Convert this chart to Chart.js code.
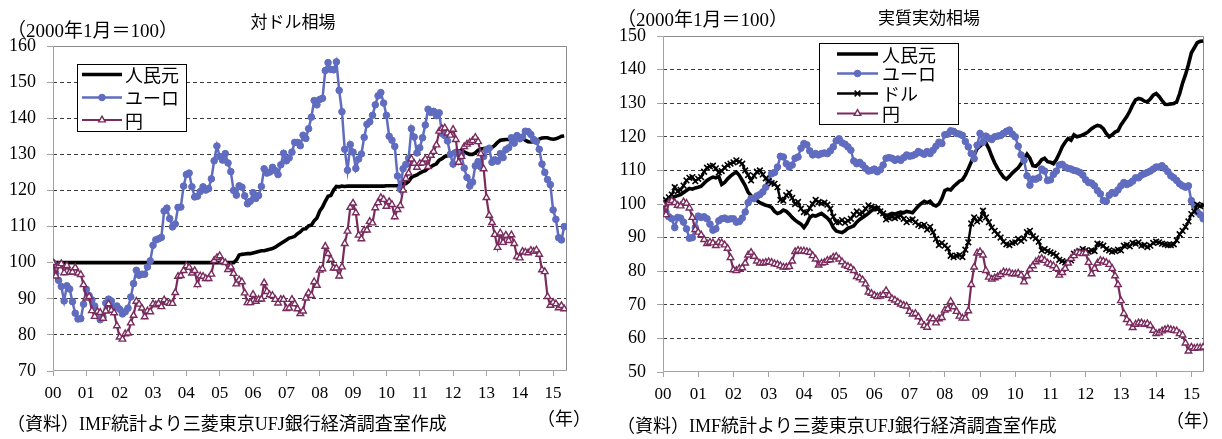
<!DOCTYPE html>
<html lang="ja">
<head>
<meta charset="utf-8">
<script src="https://cdn.jsdelivr.net/npm/chart.js@4.4.1/dist/chart.umd.min.js"></script>
<style>
  html, body { margin: 0; padding: 0; background: #fff; }
  body { width: 1222px; height: 439px; position: relative; overflow: hidden; }
  canvas { position: absolute; top: 0; }
  #cvL { left: 0; }
  #cvR { left: 611px; }
  .t { position: absolute; white-space: nowrap; color: #000;
       font-family: "Liberation Serif", "Noto Sans CJK JP", serif; }
  .g { font-family: "Noto Sans CJK JP", sans-serif; }
</style>
</head>
<body>
<canvas id="cvL" width="611" height="439"></canvas>
<canvas id="cvR" width="611" height="439"></canvas>

<div class="t" style="left:7px; top:21px; font-size:19px; line-height:20px;">（2000年1月＝100）</div>
<div class="t g" style="left:293px; top:12px; font-size:17px; line-height:18px; transform:translateX(-50%);">対ドル相場</div>
<div class="t" style="left:7px; top:414px; font-size:18px; line-height:20px;">（資料）IMF統計より三菱東京UFJ銀行経済調査室作成</div>
<div class="t" style="left:564px; top:409px; font-size:18px; line-height:20px; transform:translateX(-50%);">（年）</div>

<div class="t" style="left:617px; top:10px; font-size:19px; line-height:20px;">（2000年1月＝100）</div>
<div class="t g" style="left:929px; top:8px; font-size:17px; line-height:18px; transform:translateX(-50%);">実質実効相場</div>
<div class="t" style="left:617px; top:416px; font-size:18px; line-height:20px;">（資料）IMF統計より三菱東京UFJ銀行経済調査室作成</div>
<div class="t" style="left:1193px; top:411px; font-size:18px; line-height:20px; transform:translateX(-50%);">（年）</div>

<script>
// Monthly series, Jan 2000 .. May 2015 (2000年1月 = 100)
const yearLabels = ['00','01','02','03','04','05','06','07','08','09','10','11','12','13','14','15'];
const yearTicks = yearLabels.map((_, i) => i * 12);

// 対ドル相場
const cnyVsUsd = [
  100,100,100,100,100,100,100,100,100,100,100,100,
  100,100,100,100,100,100,100,100,100,100,100,100,
  100,100,100,100,100,100,100,100,100,100,100,100,
  100,100,100,100,100,100,100,100,100,100,100,100,
  100,100,100,100,100,100,100,100,100,100,100,100,
  100,100,100,100,100,100,100.7,102.1,102.3,102.4,102.5,102.5,
  102.7,102.9,103.1,103.3,103.3,103.5,103.7,103.9,104.3,104.8,105.3,105.8,
  106.3,106.8,107.0,107.3,108.0,108.5,109.3,109.4,110.2,110.4,111.6,112.4,
  114.3,115.4,117.0,118.4,118.6,120.1,121.1,121.0,121.2,121.1,121.2,121.2,
  121.2,121.2,121.2,121.2,121.2,121.2,121.2,121.2,121.2,121.2,121.2,121.2,
  121.3,121.3,121.3,121.3,121.3,121.5,122.0,121.9,122.5,123.6,124.0,124.3,
  124.8,125.2,125.5,126.2,126.6,127.0,127.4,128.4,128.8,129.4,129.6,130.0,
  130.6,131.0,130.9,131.0,130.7,130.3,130.0,130.0,130.4,131.1,131.5,131.6,
  131.7,131.6,131.9,132.5,133.3,133.9,134.0,134.1,134.1,134.2,134.4,134.7,
  134.8,134.6,133.9,133.5,133.4,133.5,133.8,134.2,134.5,134.6,134.6,134.3,
  134.2,134.3,134.6,135.0,135.1
];
const eurVsUsd = [
  100.0,97.0,95.1,93.4,89.4,93.6,92.7,89.2,86.0,84.4,84.5,88.5,
  92.6,90.9,89.7,88.0,86.2,84.2,84.9,88.8,89.9,89.4,87.6,88.0,
  87.1,85.8,86.4,87.4,90.5,94.2,97.9,96.5,96.8,96.8,98.8,100.5,
  104.8,106.3,106.6,107.0,114.3,115.1,112.2,109.9,110.7,115.3,115.4,121.2,
  124.4,124.8,121.0,118.2,118.4,119.7,121.0,120.1,120.5,123.2,128.2,132.3,
  129.4,128.4,130.2,127.6,125.2,120.0,118.7,121.3,120.9,118.5,116.3,117.0,
  119.4,117.8,118.6,121.1,126.0,124.8,125.1,126.4,125.5,124.4,127.1,130.3,
  128.2,129.0,130.6,133.3,133.3,132.4,135.3,134.4,137.1,140.3,144.9,143.7,
  145.2,145.5,153.2,155.4,153.5,153.4,155.6,147.7,141.8,131.4,125.6,132.7,
  130.6,126.1,128.7,130.1,134.7,138.3,139.0,140.8,143.7,146.2,147.1,144.2,
  140.8,135.0,133.9,132.2,124.0,120.4,126.0,127.2,128.9,137.1,134.8,130.4,
  131.8,134.6,138.1,142.5,141.6,141.9,140.7,141.5,135.8,135.2,133.7,130.0,
  127.3,130.5,130.2,129.8,126.2,123.6,121.2,122.3,126.8,128.0,126.5,129.4,
  131.2,131.7,127.8,128.5,128.1,130.2,129.1,131.3,131.8,134.6,133.1,135.2,
  134.3,134.8,136.4,136.3,135.5,134.1,133.6,131.4,127.3,125.0,123.0,121.6,
  114.6,112.0,106.9,106.3,110.0
];
const jpyVsUsd = [
  100.0,96.3,99.1,99.7,97.2,99.2,97.3,97.4,98.6,97.1,96.7,93.9,
  90.2,90.6,86.7,85.1,86.5,86.2,84.6,86.6,88.6,86.8,86.1,82.5,
  79.4,78.8,80.3,80.5,83.3,85.4,89.3,88.5,87.4,85.0,86.6,86.4,
  88.6,88.3,88.7,87.8,89.7,89.0,88.7,88.7,91.7,96.2,96.4,97.8,
  99.1,98.7,97.1,97.8,93.9,96.3,96.2,95.6,95.6,96.8,100.6,101.4,
  101.9,100.4,100.0,98.1,98.8,97.0,94.1,95.2,94.7,91.6,88.9,88.9,
  91.2,89.3,89.8,89.9,94.4,92.0,91.1,90.9,89.8,88.8,89.8,89.8,
  87.3,87.4,89.8,88.6,87.2,85.9,86.6,90.2,91.6,90.9,94.7,93.7,
  97.9,98.3,104.5,102.5,100.9,98.5,98.5,96.3,98.8,105.3,108.7,115.3,
  116.5,113.8,107.6,106.6,109.0,109.0,111.4,111.0,115.2,116.6,118.0,117.5,
  115.6,116.9,116.1,112.7,114.7,115.8,120.1,123.3,124.8,128.7,127.5,126.4,
  127.5,127.6,128.7,126.6,129.7,130.8,132.6,136.4,137.1,137.3,135.9,135.3,
  136.9,134.1,127.8,129.4,132.1,132.8,133.3,133.8,134.7,133.5,130.2,126.0,
  118.0,113.1,111.1,107.8,104.2,108.2,105.6,107.6,106.1,107.7,105.3,101.7,
  101.3,103.1,102.9,102.7,103.4,103.1,103.5,102.3,98.0,97.5,90.6,88.2,
  89.0,88.6,87.5,88.1,87.2
];

// 実質実効相場
const cnyReer = [
  100.0,100.8,101.6,101.3,102.2,102.5,102.8,103.4,104.0,104.6,104.4,104.8,
  105.0,105.3,106.2,107.0,107.6,108.0,107.8,108.2,105.8,106.4,107.5,108.3,
  109.0,109.5,108.5,107.0,105.5,103.5,102.5,101.5,101.0,100.4,100.0,99.6,
  99.4,99.0,97.8,97.2,97.5,98.2,97.8,97.0,96.0,95.2,94.6,94.0,
  93.0,94.2,96.0,96.6,96.4,96.8,97.2,96.5,95.8,94.8,93.0,92.0,
  91.7,91.5,92.0,92.8,93.1,93.5,94.6,95.4,96.0,96.6,97.2,98.0,
  98.6,98.9,98.0,97.0,96.6,96.8,97.2,97.0,97.3,97.6,97.4,97.8,
  97.6,97.4,98.4,99.4,100.2,100.8,100.4,100.8,99.8,99.4,100.0,101.6,
  104.0,104.4,104.2,105.2,106.0,106.8,107.2,108.6,110.5,112.5,114.5,116.5,
  117.2,118.0,118.2,116.5,114.2,112.2,110.6,109.2,108.0,107.4,108.2,109.2,
  110.0,110.8,112.0,113.4,114.8,113.6,111.4,111.2,112.0,113.2,113.6,112.6,
  112.4,112.0,113.2,115.0,117.0,118.4,119.5,119.0,120.6,120.0,120.2,120.6,
  121.0,121.6,122.4,123.0,123.4,123.2,122.4,121.0,120.0,120.6,121.4,121.8,
  123.5,124.8,126.0,127.6,129.5,131.0,131.4,131.2,130.6,130.4,131.2,132.4,
  132.9,132.0,130.8,129.7,129.6,129.8,129.9,130.4,132.8,136.0,138.5,141.5,
  145.0,146.5,148.0,148.4,148.5
];
const eurReer = [
  100.0,97.6,96.2,95.6,93.0,96.0,95.8,94.6,92.6,89.8,90.0,93.0,
  96.4,96.0,96.2,95.6,94.0,92.2,92.6,95.0,95.6,95.8,95.4,95.6,
  95.6,94.6,94.8,95.8,97.6,100.4,101.6,101.6,102.4,102.8,103.6,105.0,
  107.0,109.0,109.4,111.0,114.2,114.0,112.0,111.0,111.6,113.6,114.0,116.6,
  118.0,117.6,115.8,114.6,115.0,114.6,115.0,115.2,115.0,115.8,117.0,118.8,
  119.4,118.2,117.8,117.0,116.0,112.8,112.0,112.4,111.6,110.6,109.8,110.0,
  110.4,109.6,110.2,111.6,113.6,113.8,113.6,113.0,113.4,113.0,113.8,114.6,
  114.2,114.4,114.8,115.6,115.2,114.8,115.6,115.0,116.0,117.2,118.4,118.0,
  120.6,120.8,121.8,121.6,121.0,120.8,120.4,118.6,117.0,115.0,113.5,117.5,
  121.0,118.4,120.2,119.6,119.2,120.0,120.2,120.4,121.0,121.6,122.0,120.8,
  120.0,117.2,114.6,113.0,108.4,105.6,107.4,107.4,107.8,110.4,109.8,107.0,
  107.2,108.8,109.8,111.6,111.8,111.0,110.6,110.4,110.0,109.8,109.4,108.6,
  107.2,106.4,106.2,105.4,104.0,103.0,101.0,100.8,102.6,103.4,103.2,104.2,
  105.4,106.4,105.8,106.2,106.8,107.8,107.8,108.6,109.0,109.4,109.8,110.4,
  111.0,111.0,111.4,110.6,109.6,108.4,107.8,107.0,106.0,105.4,105.0,105.4,
  101.0,99.6,97.6,96.8,95.6
];
const usdReer = [
  100.0,101.2,102.0,102.8,105.0,103.8,104.2,105.5,107.0,107.8,108.0,106.8,
  107.5,108.0,109.6,110.8,111.2,111.4,110.6,109.4,109.8,110.8,111.6,112.0,
  112.4,113.0,112.6,112.0,110.0,108.6,107.0,108.4,109.6,110.0,108.8,107.6,
  106.8,106.2,106.0,105.0,101.2,101.0,102.6,103.4,101.8,100.0,100.6,98.6,
  97.6,97.4,98.8,100.0,101.2,100.6,100.2,100.4,99.8,98.6,96.2,94.6,
  94.6,95.2,94.4,95.0,95.6,96.8,97.8,97.0,97.4,98.6,99.6,99.2,
  98.8,98.6,97.8,97.2,95.4,95.8,96.2,95.8,96.2,96.6,95.6,94.6,
  95.2,95.4,94.6,93.8,93.4,93.8,92.4,93.2,91.6,89.6,87.8,88.4,
  87.6,86.8,84.6,84.2,84.6,84.8,84.2,86.4,88.6,94.2,96.0,94.8,
  95.4,98.0,96.0,94.6,93.0,92.0,91.0,90.0,88.8,88.0,87.8,88.4,
  88.6,89.6,89.0,89.8,91.6,92.0,90.4,89.8,88.8,86.2,86.6,86.0,
  85.6,85.2,84.6,83.4,83.0,82.6,82.6,83.2,85.2,85.6,86.0,86.6,
  86.2,85.8,86.2,86.0,88.2,88.0,87.6,86.6,86.2,85.8,86.0,86.4,
  86.2,87.6,87.8,87.4,88.4,88.2,88.6,87.6,87.8,87.2,87.6,88.4,
  88.8,88.6,88.2,88.0,87.8,87.8,88.0,89.2,91.0,92.0,93.2,94.8,
  97.0,97.8,99.8,99.4,99.6
];
const jpyReer = [
  100.0,96.8,100.4,101.0,100.4,99.6,99.4,100.6,100.2,98.8,96.0,92.4,
  91.6,90.8,89.4,88.2,88.6,88.4,87.6,88.6,88.4,87.8,86.8,84.0,
  80.4,80.2,80.8,81.0,82.4,84.8,85.6,84.4,83.0,82.4,82.4,82.6,
  82.8,82.6,82.2,82.0,81.6,81.2,81.2,81.4,83.0,85.8,86.2,86.0,
  86.0,85.8,85.6,84.6,83.6,81.8,82.4,82.6,83.2,83.4,84.2,84.4,
  83.6,82.8,81.8,81.4,81.0,80.2,78.4,78.0,77.4,76.2,73.8,73.4,
  72.8,72.4,72.6,73.0,74.2,72.8,71.8,71.4,70.8,70.2,69.8,69.6,
  68.0,67.2,67.4,66.4,64.8,63.8,63.3,66.0,65.8,64.6,65.8,66.2,
  68.4,68.8,71.0,69.4,68.0,66.6,66.0,66.0,68.2,76.0,81.2,85.4,
  85.8,84.8,80.2,78.2,77.6,78.0,78.4,79.0,79.8,79.6,79.6,79.2,
  79.2,79.4,78.8,76.8,78.6,80.6,81.6,82.8,83.4,83.8,83.2,82.4,
  82.0,81.6,80.8,78.8,79.6,80.8,82.4,83.8,84.6,85.6,85.4,85.2,
  85.4,82.6,79.2,80.8,82.4,83.2,83.0,82.6,82.0,80.8,78.6,76.0,
  71.2,67.4,65.6,64.6,63.2,64.2,64.6,64.6,64.2,64.4,63.8,62.4,
  61.4,61.6,62.2,62.6,62.8,62.6,62.4,62.2,61.4,61.0,58.6,56.2,
  57.4,57.0,57.2,57.2,57.4
];

const leftTicks = [70, 80, 90, 100, 110, 120, 130, 140, 150, 160];
const rightTicks = [50, 60, 70, 80, 90, 100, 110, 120, 130, 140, 150];

const EUR_COLOR = '#5f6cbf';
const JPY_COLOR = '#7a2b5d';
const GRID_COLOR = '#3a3a3a';
const AXIS_COLOR = '#a3a3a3';
const FRAME_COLOR = '#8a8a8a';
const TICK_FONT = { family: '"Liberation Serif", serif', size: 18 };
const X_TICK_FONT = { family: '"Liberation Serif", serif', size: 17 };
const LEGEND_FONT = '18px "Noto Sans CJK JP", sans-serif';

const toPoints = arr => arr.map((v, i) => ({ x: i, y: v }));

// Plot-area frame: solid axes on the left/bottom, thin border on top/right
const framePlugin = {
  id: 'frame',
  beforeDatasetsDraw(chart) {
    const { ctx, chartArea: a } = chart;
    const L = Math.round(a.left) + 0.5, R = Math.round(a.right) - 0.5;
    const T = Math.round(a.top) + 0.5, B = Math.round(a.bottom) - 0.5;
    ctx.save();
    ctx.lineWidth = 1;
    ctx.setLineDash([]);
    ctx.strokeStyle = FRAME_COLOR;
    ctx.beginPath();
    ctx.moveTo(L, T); ctx.lineTo(R, T); ctx.lineTo(R, B);
    ctx.stroke();
    ctx.strokeStyle = AXIS_COLOR;
    ctx.beginPath();
    ctx.moveTo(L, T); ctx.lineTo(L, B); ctx.lineTo(R, B);
    ctx.stroke();
    ctx.restore();
  }
};

// Boxed legend placed inside the plot area
const boxLegend = {
  id: 'boxLegend',
  afterDatasetsDraw(chart, args, opts) {
    const ctx = chart.ctx;
    const [bx, by, bw, bh] = opts.box;
    ctx.save();
    ctx.setLineDash([]);
    ctx.fillStyle = '#fff';
    ctx.fillRect(bx, by, bw, bh);
    ctx.strokeStyle = '#000';
    ctx.lineWidth = 1;
    ctx.strokeRect(bx + 0.5, by + 0.5, bw, bh);
    opts.order.forEach((dsIndex, row) => {
      const ds = chart.data.datasets[dsIndex];
      const y = opts.rows[row];
      ctx.strokeStyle = ds.borderColor;
      ctx.lineWidth = ds.borderWidth;
      ctx.beginPath();
      ctx.moveTo(opts.lineX[0], y);
      ctx.lineTo(opts.lineX[1], y);
      ctx.stroke();
      if (ds.pointRadius > 0) {
        ctx.fillStyle = ds.pointBackgroundColor;
        ctx.strokeStyle = ds.pointBorderColor;
        ctx.lineWidth = ds.pointBorderWidth;
        Chart.helpers.drawPoint(ctx, {
          pointStyle: ds.pointStyle, radius: ds.pointRadius,
          borderWidth: ds.pointBorderWidth, rotation: 0
        }, (opts.lineX[0] + opts.lineX[1]) / 2, y);
      }
      ctx.fillStyle = '#000';
      ctx.font = LEGEND_FONT;
      ctx.textAlign = 'left';
      ctx.textBaseline = 'middle';
      ctx.fillText(ds.label, opts.textX, y + 1);
    });
    ctx.restore();
  }
};

function cnyDataset(values) {
  return { label: '人民元', data: toPoints(values), borderColor: '#000', borderWidth: 3.6,
           pointRadius: 0, order: 4 };
}
function eurDataset(values) {
  return { label: 'ユーロ', data: toPoints(values), borderColor: EUR_COLOR, borderWidth: 2.5,
           pointStyle: 'circle', pointRadius: 3.3, pointBackgroundColor: EUR_COLOR,
           pointBorderColor: EUR_COLOR, pointBorderWidth: 1, order: 3 };
}
function usdDataset(values) {
  return { label: 'ドル', data: toPoints(values), borderColor: '#000', borderWidth: 2.4,
           pointStyle: 'crossRot', pointRadius: 4, pointBackgroundColor: '#000',
           pointBorderColor: '#000', pointBorderWidth: 1.6, order: 2 };
}
function jpyDataset(values) {
  return { label: '円', data: toPoints(values), borderColor: JPY_COLOR, borderWidth: 2.2,
           pointStyle: 'triangle', pointRadius: 3.8, pointBackgroundColor: '#fff',
           pointBorderColor: JPY_COLOR, pointBorderWidth: 1.4, order: 1 };
}

function buildChart(canvasId, datasets, s) {
  return new Chart(document.getElementById(canvasId), {
    type: 'line',
    data: { datasets },
    plugins: [framePlugin, boxLegend],
    options: {
      responsive: false,
      animation: false,
      devicePixelRatio: 1,
      events: [],
      layout: { padding: s.padding },
      elements: { line: { tension: 0 } },
      plugins: {
        legend: { display: false },
        tooltip: { enabled: false },
        boxLegend: s.legend
      },
      scales: {
        x: {
          type: 'linear', min: 0, max: s.xMax,
          afterBuildTicks: sc => { sc.ticks = yearTicks.map(v => ({ value: v })); },
          afterFit: sc => { sc.height = 30; },
          grid: { drawOnChartArea: false, drawTicks: true, tickLength: 5,
                  tickColor: AXIS_COLOR, tickBorderDash: [], color: AXIS_COLOR },
          border: { display: false },
          ticks: { autoSkip: false, maxRotation: 0, padding: 7, color: '#000', font: X_TICK_FONT,
                   callback: v => yearLabels[Math.round(v / 12)] }
        },
        y: {
          min: s.yTicks[0], max: s.yTicks[s.yTicks.length - 1],
          afterBuildTicks: sc => { sc.ticks = s.yTicks.map(v => ({ value: v })); },
          afterFit: sc => { sc.width = s.yWidth; },
          grid: {
            color: c => (c.tick && (c.tick.value === s.yTicks[0] || c.tick.value === s.yTicks[s.yTicks.length - 1]))
              ? 'rgba(0,0,0,0)' : GRID_COLOR,
            lineWidth: 1, drawTicks: true, tickLength: 6, tickColor: AXIS_COLOR,
            tickBorderDash: [], borderDash: [4, 3]
          },
          border: { display: false, dash: [4, 3] },
          ticks: { padding: 11, color: '#000', font: TICK_FONT }
        }
      }
    }
  });
}

buildChart('cvL',
  [cnyDataset(cnyVsUsd), eurDataset(eurVsUsd), jpyDataset(jpyVsUsd)],
  {
    xMax: 185, yTicks: leftTicks, yWidth: 53,
    padding: { left: 0, top: 46, right: 44, bottom: 38 },
    legend: { box: [77, 64, 109, 67], rows: [74.5, 97.5, 120], order: [0, 1, 2],
              lineX: [82, 122], textX: 125 }
  });

buildChart('cvR',
  [cnyDataset(cnyReer), eurDataset(eurReer), usdDataset(usdReer), jpyDataset(jpyReer)],
  {
    xMax: 184.3, yTicks: rightTicks, yWidth: 52,
    padding: { left: 0, top: 36, right: 18, bottom: 37 },
    legend: { box: [208, 43, 139, 81], rows: [54, 73.5, 93.5, 113.5], order: [0, 1, 2, 3],
              lineX: [226, 267], textX: 271 }
  });
</script>
</body>
</html>
